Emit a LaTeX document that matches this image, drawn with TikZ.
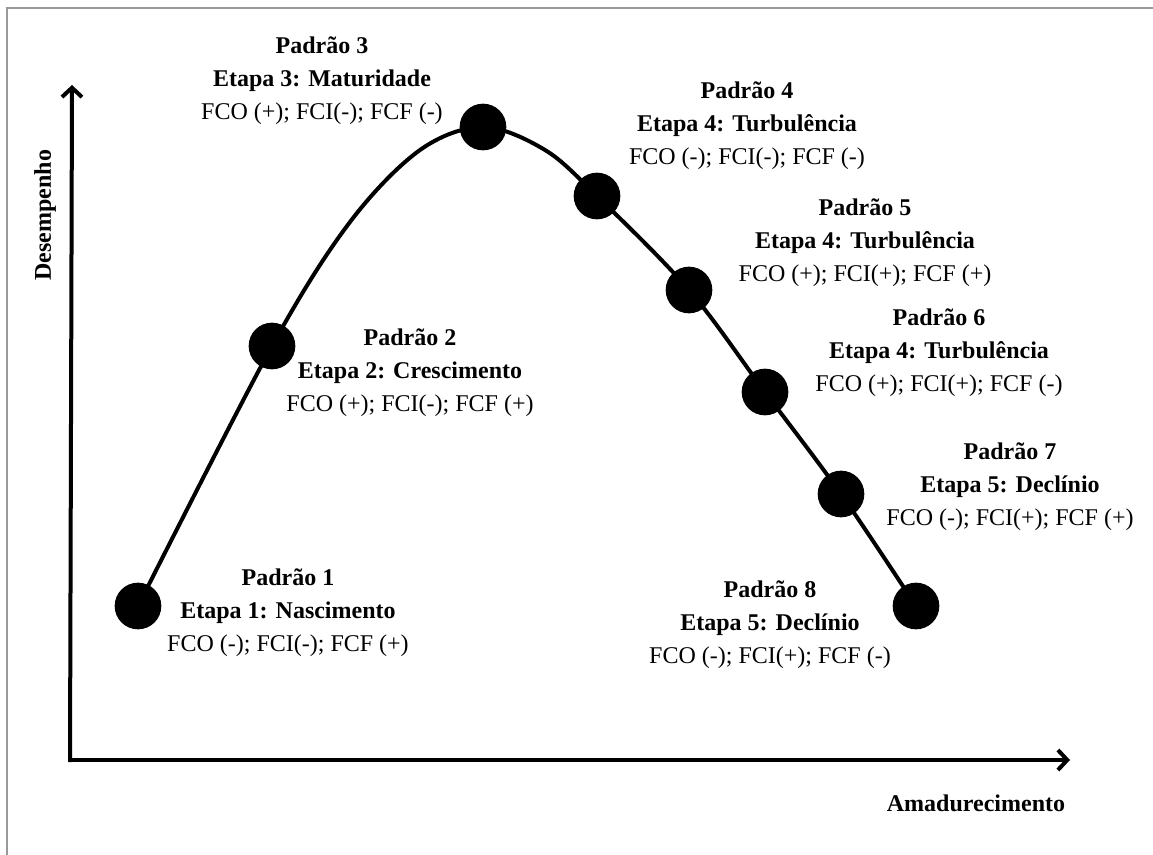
\documentclass[tikz,border=0pt]{standalone}
\usepackage{fontspec}
\setmainfont{Liberation Serif}
\usetikzlibrary{arrows.meta}
\tikzset{
  axisline/.style={line width=3pt, -{Straight Barb[length=7pt,width=15pt,line width=3pt]}},
  curveline/.style={line width=3pt},
  dotnode/.style={circle, fill=black, inner sep=0pt, minimum size=35pt},
  infobox/.style={align=center, inner sep=0pt, font=\fontsize{18}{24.75}\selectfont},
  axislabel/.style={inner sep=0pt, font=\fontsize{18}{22}\selectfont\bfseries},
  framebox/.style={draw=gray!80, line width=1.5pt}
}
\newcommand{\pblock}[3]{\textbf{#1}\\\textbf{#2}\\#3}
\begin{document}
\begin{tikzpicture}[x=0.75pt, y=-0.75pt]
\useasboundingbox (0,0) rectangle (1153,855);
\draw[framebox] (7,860) -- (7,8) -- (1160,8);
% axes
\coordinate (origin) at (70,760);
\coordinate (ytip) at (72,85);
\coordinate (xtip) at (1070,760);
\draw[axisline] (origin |- 0,762) -- (ytip);
\draw[axisline] (68,760) -- (xtip);
\node[axislabel, rotate=90] (ylab) at (45,215) {Desempenho};
\node[axislabel] (xlab) at (976,803) {Amadurecimento};
% curve points
\coordinate (p1) at (138,606);
\coordinate (p2) at (272,346);
\coordinate (p3) at (483,127);
\coordinate (p4) at (597,196);
\coordinate (p5) at (689,290);
\coordinate (p6) at (765,392);
\coordinate (p7) at (841,494);
\coordinate (p8) at (916,606);
\draw[curveline] plot[smooth, tension=0.55] coordinates {(p1) (p2) (350,222) (420,150) (p3) (545,150) (p4) (p5) (p6) (p7) (p8)};
\foreach \i in {1,...,8} \node[dotnode] (d\i) at (p\i) {};
% labels
\node[infobox] (t1) at (288,613) {\pblock{Padrão 1}{Etapa 1: Nascimento}{FCO (-); FCI(-); FCF (+)}};
\node[infobox] (t2) at (410,373) {\pblock{Padrão 2}{Etapa 2: Crescimento}{FCO (+); FCI(-); FCF (+)}};
\node[infobox] (t3) at (322,81) {\pblock{Padrão 3}{Etapa 3: Maturidade}{FCO (+); FCI(-); FCF (-)}};
\node[infobox] (t4) at (747,126) {\pblock{Padrão 4}{Etapa 4: Turbulência}{FCO (-); FCI(-); FCF (-)}};
\node[infobox] (t5) at (865,243) {\pblock{Padrão 5}{Etapa 4: Turbulência}{FCO (+); FCI(+); FCF (+)}};
\node[infobox] (t6) at (939,353) {\pblock{Padrão 6}{Etapa 4: Turbulência}{FCO (+); FCI(+); FCF (-)}};
\node[infobox] (t7) at (1010,487) {\pblock{Padrão 7}{Etapa 5: Declínio}{FCO (-); FCI(+); FCF (+)}};
\node[infobox] (t8) at (770,625) {\pblock{Padrão 8}{Etapa 5: Declínio}{FCO (-); FCI(+); FCF (-)}};
\end{tikzpicture}
\end{document}
